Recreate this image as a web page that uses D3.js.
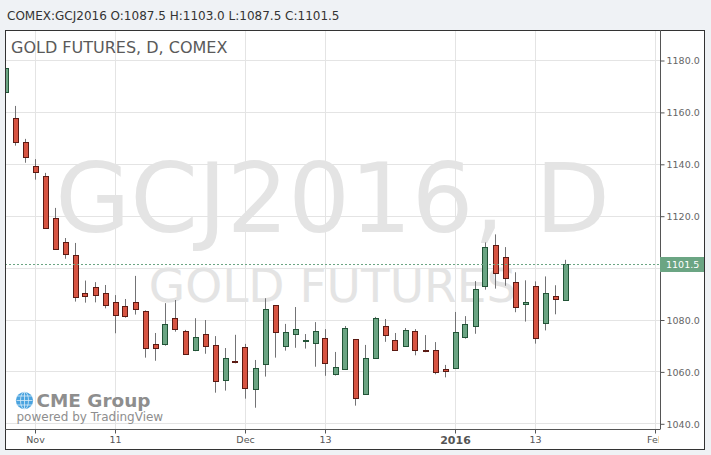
<!DOCTYPE html>
<html>
<head>
<meta charset="utf-8">
<script src="https://cdn.jsdelivr.net/npm/d3@7"></script>
<style>
  html, body { margin: 0; padding: 0; background: #eff2f5; }
  svg { display: block; font-family: "DejaVu Sans", sans-serif; }
</style>
</head>
<body>
<svg id="chart" width="711" height="455"></svg>
<script>
// ---- data ----
const symbol = "COMEX:GCJ2016";
const chartTitle = "GOLD FUTURES, D, COMEX";
const watermarkMain = "GCJ2016, D";
const watermarkSub = "GOLD FUTURES";
const openVals  = [1167.6,1157.5,1148.3,1139.0,1135.2,1119.0,1109.7,1104.7,1090.1,1092.4,1090.1,1086.6,1085.1,1086.6,1083.2,1070.4,1070.4,1080.5,1075.6,1068.1,1074.3,1070.1,1056.6,1064.0,1069.3,1053.1,1062.7,1085.5,1069.7,1074.3,1071.6,1070.8,1072.8,1058.9,1060.8,1072.4,1051.3,1065.0,1077.4,1072.0,1069.7,1075.5,1068.2,1068.1,1060.8,1061.2,1073.1,1077.4,1092.8,1108.6,1104.0,1094.3,1085.9,1092.8,1078.5,1089.2,1087.5];
const highVals  = [1178.5,1162.3,1149.6,1141.8,1136.5,1123.0,1111.4,1109.5,1095.0,1094.4,1093.3,1089.4,1087.9,1096.8,1083.5,1074.8,1086.3,1087.5,1076.0,1080.5,1079.8,1073.6,1069.0,1074.1,1070.6,1064.4,1088.2,1085.5,1078.3,1084.8,1074.4,1079.0,1076.3,1067.5,1077.5,1072.4,1070.2,1081.0,1080.2,1074.8,1076.7,1076.3,1074.0,1071.3,1062.5,1082.9,1081.3,1094.8,1109.7,1112.8,1107.9,1098.2,1095.1,1094.7,1096.6,1093.2,1103.0];
const lowVals   = [1166.0,1147.0,1140.4,1133.9,1115.1,1107.1,1103.4,1086.9,1086.5,1086.6,1084.3,1074.7,1080.7,1081.9,1065.3,1064.1,1069.9,1075.3,1066.6,1067.8,1066.8,1051.8,1052.6,1063.1,1049.5,1046.0,1058.0,1065.3,1068.0,1069.1,1068.8,1061.8,1058.3,1058.4,1060.8,1046.8,1051.3,1065.0,1071.4,1068.1,1069.7,1066.2,1067.4,1058.9,1057.7,1061.2,1072.6,1074.5,1091.5,1091.9,1093.0,1082.8,1079.2,1070.7,1075.8,1082.0,1087.5];
const closeVals = [1176.8,1148.3,1142.5,1136.7,1115.1,1107.1,1105.1,1088.6,1088.9,1089.3,1085.5,1081.6,1081.2,1083.9,1068.9,1068.9,1078.1,1076.2,1066.6,1073.1,1069.7,1056.2,1065.0,1063.6,1053.5,1061.2,1083.9,1075.1,1075.1,1076.2,1072.0,1075.5,1063.1,1061.6,1076.6,1049.6,1065.0,1080.5,1073.9,1068.1,1075.8,1068.1,1067.8,1059.7,1060.0,1075.1,1078.1,1091.6,1107.8,1097.8,1095.9,1084.7,1086.6,1072.8,1090.1,1088.0,1101.5];
const priceTicks = [1040,1060,1080,1100,1120,1140,1160,1180];
const timeTickLabels = ["Nov","11","Dec","13","2016","13","Feb"];
const timeTickBars   = [3, 11, 24, 32, 45, 53, 65];   // bar index of each date label
const boldTimeLabels = ["2016"];

// ---- layout ----
const plot = {left: 5, right: 660, top: 30, bottom: 429};
const UP = "#6ba583", UP_B = "#225437", DN = "#d75442", DN_B = "#5b1a13", WICK = "#737375";

const svg = d3.select("#chart");
const candles = openVals.map((o, i) => ({i, o, h: highVals[i], l: lowVals[i], c: closeVals[i]}));
const last = candles[candles.length - 1];

const x = d3.scaleLinear().domain([0, 56]).range([5.5, 565.5]);
const y = d3.scaleLinear().domain([1040, 1180]).range([423.3, 60]);
const fmt = d3.format(".1f");

// header
svg.append("text").attr("x", 7).attr("y", 19.5).attr("font-size", 12).attr("fill", "#333")
  .text(`${symbol} O:${fmt(last.o)} H:${fmt(last.h)} L:${fmt(last.l)} C:${fmt(last.c)}`);

// frame
svg.append("rect").attr("x", 5.5).attr("y", 30.5).attr("width", 699).attr("height", 419)
  .attr("fill", "#fff").attr("stroke", "#333");

const defs = svg.append("defs");
defs.append("clipPath").attr("id", "plotClip").append("rect")
  .attr("x", plot.left + 1).attr("y", plot.top + 1)
  .attr("width", plot.right - plot.left - 1).attr("height", plot.bottom - plot.top - 1);
defs.append("clipPath").attr("id", "timeClip").append("rect")
  .attr("x", plot.left + 1).attr("y", 0).attr("width", plot.right - plot.left - 2).attr("height", 20);

const g = svg.append("g").attr("clip-path", "url(#plotClip)");

// watermarks
const cx = (plot.left + plot.right) / 2;
g.append("text").attr("x", cx).attr("y", 232).attr("text-anchor", "middle")
  .attr("font-size", 97).attr("fill", "#e4e4e4").text(watermarkMain);
g.append("text").attr("x", cx).attr("y", 302).attr("text-anchor", "middle")
  .attr("font-size", 47).attr("fill", "#e4e4e4").text(watermarkSub);

// grid
g.selectAll("line.hg").data(priceTicks).join("line").attr("class", "hg")
  .attr("x1", plot.left).attr("x2", plot.right)
  .attr("y1", d => Math.round(y(d)) + 0.5).attr("y2", d => Math.round(y(d)) + 0.5)
  .attr("stroke", "#e4e4e4");
g.selectAll("line.vg").data(timeTickBars).join("line").attr("class", "vg")
  .attr("x1", d => Math.floor(x(d)) + 0.5).attr("x2", d => Math.floor(x(d)) + 0.5)
  .attr("y1", plot.top).attr("y2", plot.bottom)
  .attr("stroke", "#e4e4e4");

// title
svg.append("text").attr("x", 11).attr("y", 53).attr("font-size", 16).attr("fill", "#5a5a5a").text(chartTitle);

// logo
const logo = svg.append("g");
logo.append("circle").attr("cx", 24.5).attr("cy", 400.5).attr("r", 8.6).attr("fill", "#4aa3df");
logo.append("ellipse").attr("cx", 24.5).attr("cy", 400.5).attr("rx", 4).attr("ry", 8.6)
  .attr("fill", "none").attr("stroke", "#d8ecf8").attr("stroke-width", 0.8);
logo.append("line").attr("x1", 24.5).attr("x2", 24.5).attr("y1", 392).attr("y2", 409).attr("stroke", "#d8ecf8").attr("stroke-width", 0.8);
[-4.5, 0, 4.5].forEach(dy => {
  logo.append("line").attr("x1", 16.5).attr("x2", 32.5).attr("y1", 400.5 + dy).attr("y2", 400.5 + dy)
    .attr("stroke", "#d8ecf8").attr("stroke-width", 0.8);
});
logo.append("text").attr("x", 36.5).attr("y", 406.5).attr("font-size", 17.5).attr("font-weight", "bold")
  .attr("fill", "#8e8e8e").attr("textLength", 114).attr("lengthAdjust", "spacingAndGlyphs").text("CME Group");
logo.append("text").attr("x", 16.5).attr("y", 421).attr("font-size", 12)
  .attr("fill", "#8e8e8e").text("powered by TradingView");

// candles
const cg = g.append("g");
cg.selectAll("line.wick").data(candles).join("line").attr("class", "wick")
  .attr("x1", d => x(d.i)).attr("x2", d => x(d.i))
  .attr("y1", d => y(d.h)).attr("y2", d => y(d.l))
  .attr("stroke", WICK).attr("stroke-width", 1);
cg.selectAll("rect.body").data(candles).join("rect").attr("class", "body")
  .attr("x", d => Math.round(x(d.i) - 3) + 0.5)
  .attr("width", 5)
  .attr("y", d => Math.round(y(Math.max(d.o, d.c))) + 0.5)
  .attr("height", d => Math.max(1, Math.round(Math.abs(y(d.o) - y(d.c)))))
  .attr("fill", d => d.c >= d.o ? UP : DN)
  .attr("stroke", d => d.c >= d.o ? UP_B : DN_B)
  .attr("stroke-width", 1);

// last price dotted line
g.append("line").attr("x1", plot.left).attr("x2", plot.right)
  .attr("y1", Math.round(y(last.c)) + 0.5).attr("y2", Math.round(y(last.c)) + 0.5)
  .attr("stroke", UP).attr("stroke-dasharray", "2,2");

// price axis
const yAxis = d3.axisRight(y).tickValues(priceTicks.filter(v => Math.abs(v - last.c) > 5))
  .tickFormat(fmt).tickSize(4).tickPadding(2);
const ya = svg.append("g").attr("transform", `translate(${plot.right + 0.5},0.5)`).call(yAxis);
ya.select(".domain").remove();
ya.selectAll(".tick line").attr("stroke", "#555");
ya.selectAll(".tick text").attr("fill", "#666").attr("font-size", 9.5)
  .attr("font-family", "DejaVu Sans").attr("dy", "0.34em");
svg.append("line").attr("x1", plot.right + 0.5).attr("x2", plot.right + 0.5)
  .attr("y1", plot.top).attr("y2", plot.bottom).attr("stroke", "#555");

// last price label
const ly = Math.round(y(last.c));
svg.append("rect").attr("x", plot.right).attr("y", ly - 7).attr("width", 44).attr("height", 15).attr("fill", UP);
svg.append("text").attr("x", 666).attr("y", ly + 0.5).attr("dy", "0.34em").attr("font-size", 9.5)
  .attr("fill", "#fff").text(fmt(last.c));

// time axis
const xAxis = d3.axisBottom(x).tickValues(timeTickBars)
  .tickFormat((d, i) => timeTickLabels[i]).tickSize(4).tickPadding(3);
const xa = svg.append("g").attr("transform", `translate(0,${plot.bottom + 0.5})`)
  .attr("clip-path", "url(#timeClip)").call(xAxis);
xa.select(".domain").remove();
xa.selectAll(".tick").attr("transform", d => `translate(${Math.floor(x(d)) + 0.5},0)`);
xa.selectAll(".tick line").attr("stroke", "#555");
xa.selectAll(".tick text").attr("fill", "#555").attr("font-family", "DejaVu Sans")
  .attr("font-size", (d, i) => boldTimeLabels.includes(timeTickLabels[i]) ? 11 : 9.5)
  .attr("font-weight", (d, i) => boldTimeLabels.includes(timeTickLabels[i]) ? "bold" : "normal");
svg.append("line").attr("x1", plot.left).attr("x2", plot.right + 0.5)
  .attr("y1", plot.bottom + 0.5).attr("y2", plot.bottom + 0.5).attr("stroke", "#555");
</script>
</body>
</html>
